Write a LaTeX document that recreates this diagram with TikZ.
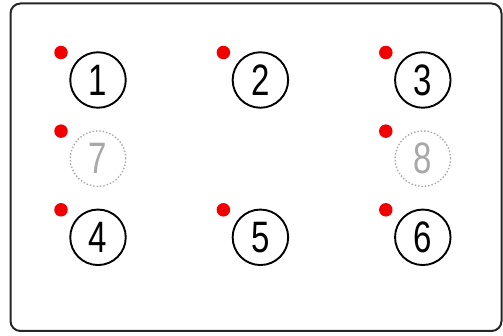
\documentclass[tikz,border=0pt]{standalone}
\usepackage{fontspec}
\usepackage{xcolor}
\usepackage{tikz}
\usetikzlibrary{positioning}
\newfontfamily\digitfont[FakeStretch=0.75]{Liberation Sans}
\definecolor{framegray}{HTML}{262626}
\definecolor{dotred}{HTML}{F00000}
\definecolor{faded}{HTML}{A8A8A8}

\begin{document}
\begin{tikzpicture}[x=1pt, y=1pt, node distance=21.5pt and 105pt,
    every node/.style={font=\digitfont\fontsize{44}{44}\selectfont},
    seat/.style={draw=black, line width=1.9pt, circle, minimum size=55.5pt, inner sep=0pt},
    emptyseat/.style={draw=faded, dotted, line width=1.4pt, circle, minimum size=55.5pt, inner sep=0pt, text=faded},
    reddot/.style={fill=dotred, circle, minimum size=13.5pt, inner sep=0pt}]
        \useasboundingbox (0,0) rectangle (503,-336);
        \draw[framegray, line width=2pt, rounded corners=10pt] (10.5,-3.5) rectangle (501.5,-331);
        \node[seat] (c1) at (98,-80) {1};
        \node[seat, right=of c1] (c2) {2};
        \node[seat, right=of c2] (c3) {3};
        \node[emptyseat, below=of c1] (c7) {7};
        \node[emptyseat, below=of c3] (c8) {8};
        \node[seat, below=of c7] (c4) {4};
        \node[seat] (c5) at (c2 |- c4) {5};
        \node[seat, below=of c8] (c6) {6};
        \foreach \s in {1,...,8}{\node[reddot] (d\s) at ([shift={(-37pt,27.5pt)}]c\s.center) {};}
      \end{tikzpicture}
\end{document}
